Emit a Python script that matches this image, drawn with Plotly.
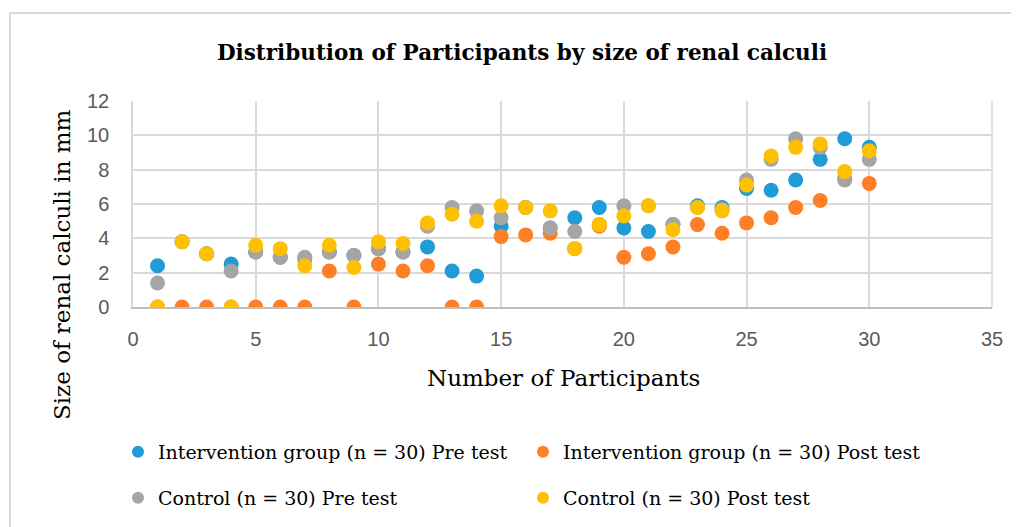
import plotly.graph_objects as go

participants = list(range(1, 31))

intervention_pre = [2.4, 3.8, 3.1, 2.5, 3.2, 2.9, 2.8, 3.2, 3.0, 3.4,
                    3.2, 3.5, 2.1, 1.8, 4.7, 5.8, 4.6, 5.2, 5.8, 4.6,
                    4.4, 4.8, 5.9, 5.8, 6.9, 6.8, 7.4, 8.6, 9.8, 9.3]
intervention_post = [0, 0, 0, 0, 0, 0, 0, 2.1, 0, 2.5,
                     2.1, 2.4, 0, 0, 4.1, 4.2, 4.3, 3.4, 4.7, 2.9,
                     3.1, 3.5, 4.8, 4.3, 4.9, 5.2, 5.8, 6.2, 7.5, 7.2]
control_pre = [1.4, 3.8, 3.1, 2.1, 3.2, 2.9, 2.9, 3.2, 3.0, 3.4,
               3.2, 4.7, 5.8, 5.6, 5.2, 5.8, 4.6, 4.4, 4.8, 5.9,
               5.9, 4.8, 5.8, 5.7, 7.4, 8.6, 9.8, 9.3, 7.4, 8.6]
control_post = [0, 3.8, 3.1, 0, 3.6, 3.4, 2.4, 3.6, 2.3, 3.8,
                3.7, 4.9, 5.4, 5.0, 5.9, 5.8, 5.6, 3.4, 4.8, 5.3,
                5.9, 4.5, 5.8, 5.6, 7.1, 8.8, 9.3, 9.5, 7.9, 9.1]

series = [
    ("Intervention group (n = 30) Pre test", intervention_pre, "#1F9BD7", "legend"),
    ("Intervention group (n = 30) Post test", intervention_post, "#FF7F27", "legend"),
    ("Control (n = 30) Pre test", control_pre, "#A5A5A5", "legend2"),
    ("Control (n = 30) Post test", control_post, "#FFC000", "legend2"),
]

serif = "DejaVu Serif, serif"
sans = "Liberation Sans, Arial, sans-serif"

fig = go.Figure()
for name, vals, color, leg in series:
    fig.add_trace(go.Scatter(
        x=participants, y=vals, mode="markers", name=name, legend=leg,
        marker=dict(size=15, color=color, line=dict(width=0)),
    ))

# page body has an 8px margin; work in reference-pixel coordinates
OFF = 8
W, H = 1019 - OFF, 527 - OFF
pl, pr, pt, pb = 133, 992, 101, 307  # plot edges in reference pixels
L, R, T, B = pl - OFF, (1019 - pr), pt - OFF, H - (pb - OFF)
pw, ph = W - L - R, H - T - B

def px2x(p):
    return (p - OFF - L) / pw

def px2y(p):
    return (H - B - (p - OFF)) / ph

legend_common = dict(orientation="h", xanchor="left", yanchor="middle",
                     entrywidth=360, entrywidthmode="pixels", itemwidth=30,
                     font=dict(family=serif, size=19, color="black"),
                     itemsizing="constant", bgcolor="rgba(0,0,0,0)")

fig.update_layout(
    width=W, height=H,
    margin=dict(l=L, r=R, t=T, b=B, autoexpand=False),
    paper_bgcolor="white", plot_bgcolor="white",
    title=dict(text="<b>Distribution of Participants by size of renal calculi</b>",
               x=(522 - OFF) / W, xref="container", xanchor="center",
               y=1 - (52 - OFF) / H, yanchor="middle",
               font=dict(family=serif, size=21.5, color="black")),
    xaxis=dict(range=[0, 35], dtick=5, tick0=0, showgrid=True, gridcolor="#D9D9D9",
               gridwidth=1.5, zeroline=False, showline=True, linecolor="#BFBFBF",
               linewidth=2, ticks="", ticklabelstandoff=13,
               tickfont=dict(family=sans, size=20, color="#595959")),
    yaxis=dict(range=[0, 12], dtick=2, showgrid=True, gridcolor="#D9D9D9",
               gridwidth=1.5, zeroline=False, showline=True, linecolor="#D9D9D9",
               linewidth=1.5, ticks="", ticklabelstandoff=18,
               tickfont=dict(family=sans, size=20, color="#595959")),
    legend=dict(x=px2x(118), y=px2y(452), **legend_common),
    legend2=dict(x=px2x(118), y=px2y(498), **legend_common),
    showlegend=True,
    annotations=[
        dict(text="Number of Participants", xref="paper", yref="paper",
             x=px2x(563), y=px2y(378), xanchor="center", yanchor="middle",
             showarrow=False, font=dict(family=serif, size=23, color="black")),
        dict(text="Size of renal calculi in mm", xref="paper", yref="paper",
             x=px2x(62), y=px2y(265), xanchor="center", yanchor="middle", textangle=-90,
             showarrow=False, font=dict(family=serif, size=23, color="black")),
    ],
)

fig.add_shape(type="rect", xref="paper", yref="paper",
              x0=px2x(10), x1=px2x(1040), y0=px2y(560), y1=px2y(13),
              line=dict(color="#D9D9D9", width=2), fillcolor="rgba(0,0,0,0)",
              layer="below")
fig.add_shape(type="line", xref="paper", yref="paper",
              x0=1, x1=1, y0=0, y1=1, line=dict(color="#D9D9D9", width=1.5))

fig.write_html("out.html")
